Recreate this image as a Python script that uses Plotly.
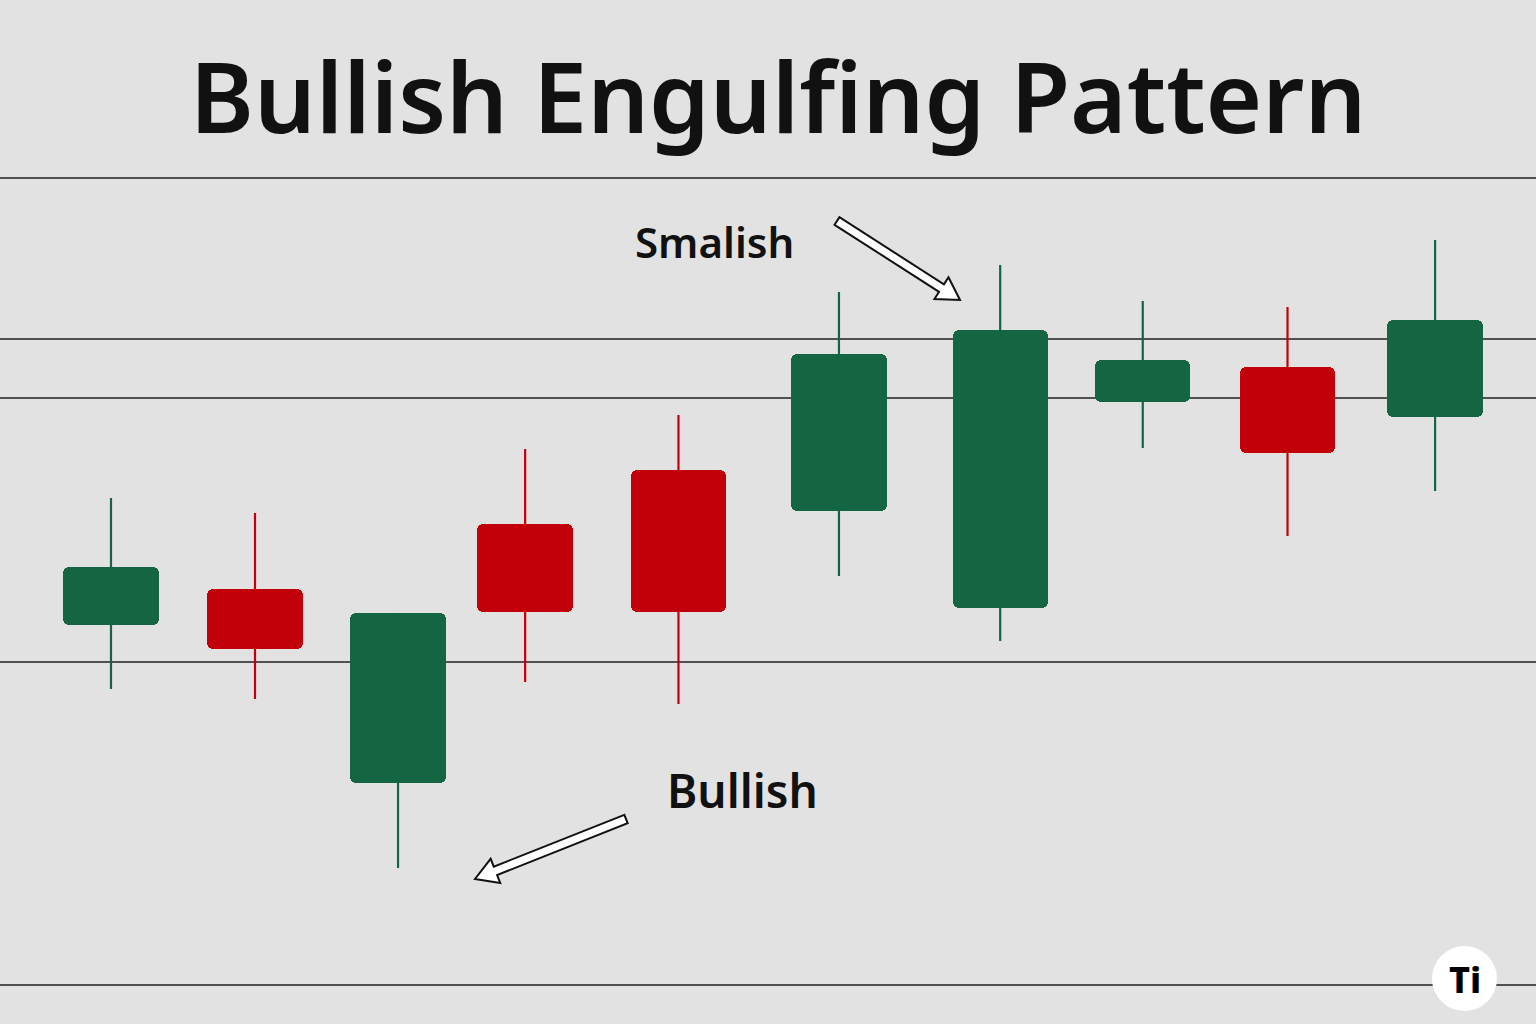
import plotly.graph_objects as go
import math

# ---- data ----
x_pos = [1, 2.005, 3.003, 3.89, 4.96, 6.08, 7.205, 8.2, 9.21, 10.24]
opens = [39.9, 43.5, 24.1, 50.0, 55.4, 51.3, 41.6, 62.2, 65.7, 60.7]
highs = [52.6, 51.1, 41.1, 57.5, 60.9, 73.2, 75.9, 72.3, 71.7, 78.4]
lows = [33.5, 32.5, 15.6, 34.2, 32.0, 44.8, 38.3, 57.6, 48.8, 53.3]
closes = [45.7, 37.5, 41.1, 41.2, 41.2, 67.0, 69.4, 66.4, 57.1, 70.4]
grid_levels = [84.6, 68.5, 62.6, 36.2, 3.9]

title_text = "Bullish Engulfing Pattern"
label_top = "Smalish"
label_bottom = "Bullish"
logo_text = "Ti"

W, H = 1536, 1024
GREEN = "#146642"
RED = "#c1000a"
BG = "#e2e2e2"

fig = go.Figure()

# wicks
for color, up in ((GREEN, True), (RED, False)):
    xs, ys = [], []
    for xi, o, h, l, c in zip(x_pos, opens, highs, lows, closes):
        if (c >= o) == up:
            xs += [xi, xi, None]
            ys += [l, h, None]
    fig.add_trace(go.Scatter(x=xs, y=ys, mode="lines",
                             line=dict(color=color, width=2.2),
                             hoverinfo="skip", showlegend=False))

# bodies
colors = [GREEN if c >= o else RED for o, c in zip(opens, closes)]
fig.add_trace(go.Bar(
    x=x_pos,
    y=[abs(c - o) for o, c in zip(opens, closes)],
    base=[min(o, c) for o, c in zip(opens, closes)],
    width=0.665,
    marker=dict(color=colors, line=dict(width=0), cornerradius=6),
    showlegend=False, hoverinfo="skip",
))

# helpers for pixel -> paper
def px(x):
    return x / W

def py(y):
    return 1 - y / H

def arrow_path(x0, y0, x1, y1, shaft=9, head_w=26, head_l=22):
    dx, dy = x1 - x0, y1 - y0
    L = math.hypot(dx, dy)
    ux, uy = dx / L, dy / L
    nx, ny = -uy, ux
    bx, by = x1 - ux * head_l, y1 - uy * head_l
    pts = [
        (x0 + nx * shaft / 2, y0 + ny * shaft / 2),
        (bx + nx * shaft / 2, by + ny * shaft / 2),
        (bx + nx * head_w / 2, by + ny * head_w / 2),
        (x1, y1),
        (bx - nx * head_w / 2, by - ny * head_w / 2),
        (bx - nx * shaft / 2, by - ny * shaft / 2),
        (x0 - nx * shaft / 2, y0 - ny * shaft / 2),
    ]
    return "M " + " L ".join(f"{px(a):.5f} {py(b):.5f}" for a, b in pts) + " Z"

shapes = [
    dict(type="path", xref="paper", yref="paper",
         path=arrow_path(837, 221, 960, 300),
         fillcolor="white", line=dict(color="#111111", width=2), layer="above"),
    dict(type="path", xref="paper", yref="paper",
         path=arrow_path(626, 819, 475, 879),
         fillcolor="white", line=dict(color="#111111", width=2), layer="above"),
    dict(type="circle", xref="paper", yref="paper",
         x0=px(1432), x1=px(1497), y0=py(1011), y1=py(946),
         fillcolor="white", line=dict(width=0), layer="above"),
]

annotations = [
    dict(text=title_text, xref="paper", yref="paper", x=px(778), y=py(95),
         showarrow=False, xanchor="center", yanchor="middle",
         font=dict(family="Noto Sans", size=97, color="#111111", weight=600)),
    dict(text=label_top, xref="paper", yref="paper", x=px(714), y=py(241),
         showarrow=False, xanchor="center", yanchor="middle",
         font=dict(family="Noto Sans", size=42, color="#111111", weight=600)),
    dict(text=label_bottom, xref="paper", yref="paper", x=px(742), y=py(790),
         showarrow=False, xanchor="center", yanchor="middle",
         font=dict(family="Noto Sans", size=46, color="#111111", weight=600)),
    dict(text=logo_text, xref="paper", yref="paper", x=px(1465), y=py(979),
         showarrow=False, xanchor="center", yanchor="middle",
         font=dict(family="Noto Sans", size=36, color="#000000", weight=800)),
]

fig.update_layout(
    width=W, height=H,
    margin=dict(l=0, r=0, t=0, b=0),
    paper_bgcolor=BG, plot_bgcolor=BG,
    shapes=shapes, annotations=annotations,
    xaxis=dict(range=[1 - 111 / 143.3, 1 + 1425 / 143.3], visible=False, fixedrange=True),
    yaxis=dict(range=[0, 102.4], tickvals=grid_levels, showticklabels=False,
               showgrid=True, gridcolor="#505050", gridwidth=1.5,
               zeroline=False, showline=False, ticks="", fixedrange=True),
    bargap=0,
)

fig.write_html(
    "out.html",
    config={"displayModeBar": False},
    post_script="document.body.style.margin='0';document.body.style.overflow='hidden';",
)
